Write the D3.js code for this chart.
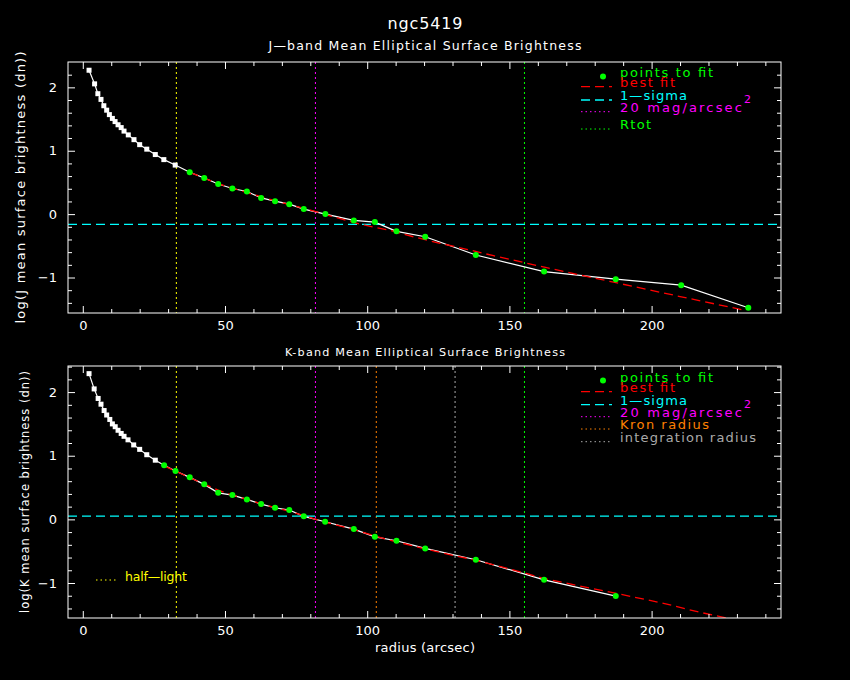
<!DOCTYPE html>
<html>
<head>
<meta charset="utf-8">
<script src="https://cdn.jsdelivr.net/npm/d3@7"></script>
<style>
  body { margin: 0; background: #000; }
  svg { display: block; }
  text { font-family: "DejaVu Sans", sans-serif; }
</style>
</head>
<body>
<div id="grafico"></div>
<script>
// perfil em J (raio em arcsec, log do brilho)
const raioJ = [2.2, 4.15, 5.3, 6.4, 7.4, 8.4, 9.35, 10.4, 11.35, 12.4, 13.5, 14.5, 16.0, 18.0, 20.0, 22.5, 25.5, 28.5, 32.5,
  37.6, 42.7, 47.6, 52.6, 57.7, 62.7, 67.6, 72.6, 77.7, 85.3, 95.3, 102.7, 110.3, 120.4, 138.2, 162.2, 187.4, 210.4, 234.0];
const logJ = [2.27, 2.055, 1.90, 1.81, 1.71, 1.64, 1.57, 1.51, 1.46, 1.41, 1.365, 1.31, 1.25, 1.175, 1.096, 1.025, 0.94, 0.86, 0.774,
  0.66, 0.57, 0.476, 0.404, 0.357, 0.256, 0.204, 0.157, 0.079, 0.0, -0.10, -0.126, -0.272, -0.357, -0.645, -0.907, -1.027, -1.121, -1.478];
const primeiroAjusteJ = 19; // primeiro ponto usado no ajuste

// ajuste em J
const ajusteRaioJ = [37.6, 47.6, 57.7, 67.6, 80, 88, 97.5, 102.8, 107.5, 116.2, 125.6, 135, 144.4, 153.8, 163.1, 186.6, 210, 233];
const ajusteLogJ = [0.66, 0.48, 0.34, 0.21, 0.063, -0.04, -0.157, -0.21, -0.25, -0.357, -0.46, -0.555, -0.656, -0.75, -0.845, -1.074, -1.30, -1.52];

// perfil em K
const raioK = [2.2, 4.0, 5.4, 6.4, 7.5, 8.4, 9.5, 10.4, 11.4, 12.4, 13.5, 14.5, 15.9, 17.9, 20.0, 22.5, 25.5,
  28.6, 32.6, 37.6, 42.7, 47.6, 52.6, 57.7, 62.7, 67.6, 72.6, 77.7, 85.2, 95.3, 102.7, 110.3, 120.4, 138.2, 162.2, 187.4];
const logK = [2.29, 2.05, 1.90, 1.81, 1.71, 1.64, 1.57, 1.50, 1.456, 1.40, 1.35, 1.305, 1.25, 1.17, 1.10, 1.016, 0.93,
  0.85, 0.76, 0.66, 0.55, 0.417, 0.382, 0.314, 0.24, 0.182, 0.146, 0.047, -0.038, -0.153, -0.274, -0.336, -0.456, -0.635, -0.95, -1.206];
const primeiroAjusteK = 17;

// ajuste em K
const ajusteRaioK = [28.6, 32.6, 37.6, 42.7, 47.6, 52.6, 57.7, 62.7, 67.6, 72.6, 77.7, 85, 95.3, 106.9, 120, 130.9, 138, 156, 162, 187.7, 204.2, 217, 226.4, 232];
const ajusteLogK = [0.84, 0.76, 0.655, 0.555, 0.46, 0.38, 0.315, 0.245, 0.185, 0.13, 0.06, -0.04, -0.16, -0.315, -0.46, -0.572, -0.64, -0.85, -0.93, -1.164, -1.32, -1.46, -1.55, -1.62];

// linhas de referência
const sigmaJ = -0.162, sigmaK = 0.052;
const meiaLuz = 32.9, mag20 = 81.8, rTot = 155.3, raioKron = 103.2, raioIntegracao = 130.9;

// ticks dos eixos
const ticksX = [0, 50, 100, 150, 200];
const ticksY = [-1, 0, 1, 2];

const svg = d3.select("#grafico").append("svg")
  .attr("width", 850).attr("height", 680)
  .style("background", "#000");

const x = d3.scaleLinear().domain([-5.2, 245.5]).range([68, 781]);

const cores = {
  verde: "#00ff00", vermelho: "#ff0000", ciano: "#00ffff", magenta: "#ff00ff",
  amarelo: "#ffff00", laranja: "#ff8000", cinza: "#aaaaaa"
};

// texto com largura fixa (a fonte original é mais larga)
function texto(g, px, py, t, tam, cor, anchor, largura) {
  const el = g.append("text").attr("x", px).attr("y", py).attr("fill", cor || "#fff")
    .attr("font-size", tam).attr("text-anchor", anchor || "start").text(t);
  if (largura) el.attr("textLength", largura).attr("lengthAdjust", "spacing");
  return el;
}

function painel(cfg) {
  const y = d3.scaleLinear().domain(cfg.dominioY).range([cfg.base, cfg.topo]);
  const g = svg.append("g");
  const clipId = "clip" + cfg.id;
  svg.append("clipPath").attr("id", clipId).append("rect")
    .attr("x", 68).attr("y", cfg.topo).attr("width", 713).attr("height", cfg.base - cfg.topo);
  const area = g.append("g").attr("clip-path", `url(#${clipId})`);

  // linhas verticais
  cfg.verticais.forEach(v => {
    area.append("line").attr("x1", x(v.r)).attr("x2", x(v.r))
      .attr("y1", cfg.topo).attr("y2", cfg.base)
      .attr("stroke", v.cor).attr("stroke-dasharray", "2,3");
  });

  // 1-sigma
  area.append("line").attr("x1", 68).attr("x2", 781)
    .attr("y1", y(cfg.sigma)).attr("y2", y(cfg.sigma))
    .attr("stroke", cores.ciano).attr("stroke-width", 1.3).attr("stroke-dasharray", "9,5");

  // perfil
  const pts = cfg.raio.map((r, i) => [r, cfg.valores[i]]);
  const linha = d3.line().x(d => x(d[0])).y(d => y(d[1]));
  area.append("path").datum(pts).attr("d", linha)
    .attr("fill", "none").attr("stroke", "#fff").attr("stroke-width", 1.2);
  area.selectAll(".branco").data(pts.slice(0, cfg.primeiro)).enter().append("rect")
    .attr("x", d => x(d[0]) - 2.5).attr("y", d => y(d[1]) - 2.5)
    .attr("width", 5).attr("height", 5).attr("fill", "#fff");

  // ajuste
  const ajuste = cfg.ajusteRaio.map((r, i) => [r, cfg.ajusteLog[i]]);
  area.append("path").datum(ajuste).attr("d", linha)
    .attr("fill", "none").attr("stroke", cores.vermelho).attr("stroke-width", 1.3)
    .attr("stroke-dasharray", "9,5");

  area.selectAll(".verde").data(pts.slice(cfg.primeiro)).enter().append("circle")
    .attr("cx", d => x(d[0])).attr("cy", d => y(d[1])).attr("r", 3)
    .attr("fill", cores.verde);

  // moldura e ticks
  g.append("rect").attr("x", 68).attr("y", cfg.topo).attr("width", 713)
    .attr("height", cfg.base - cfg.topo).attr("fill", "none").attr("stroke", "#fff");

  const menoresX = d3.range(-5, 25).map(i => i * 10).filter(v => v % 50 !== 0 && v > -5.2 && v < 245.5);
  const menoresY = d3.range(-7, 13).map(i => i * 0.2).filter((v, i) => (i - 7 + 70) % 5 !== 0 && v > cfg.dominioY[0] && v < cfg.dominioY[1]);
  const fmt = d => (d < 0 ? "\u2212" : "") + Math.abs(d);

  const eixo = (ger, transf, valores, tam, rotulos) => {
    const a = g.append("g").attr("transform", transf)
      .call(ger.tickValues(valores).tickSize(-tam).tickPadding(rotulos ? 8 : 0)
        .tickFormat(rotulos ? fmt : ""));
    a.select(".domain").remove();
    a.selectAll("line").attr("stroke", "#fff");
    a.selectAll("text").attr("fill", "#fff").attr("font-size", 13)
      .style("font-family", "DejaVu Sans, sans-serif");
    return a;
  };
  eixo(d3.axisBottom(x), `translate(0,${cfg.base})`, ticksX, 7, true);
  eixo(d3.axisBottom(x), `translate(0,${cfg.base})`, menoresX, 4, false);
  eixo(d3.axisTop(x), `translate(0,${cfg.topo})`, ticksX, -7, false).selectAll("line").attr("y2", 7);
  eixo(d3.axisTop(x), `translate(0,${cfg.topo})`, menoresX, -4, false).selectAll("line").attr("y2", 4);
  eixo(d3.axisLeft(y), "translate(68,0)", ticksY, 7, true).selectAll("text").attr("dx", "-3");
  eixo(d3.axisLeft(y), "translate(68,0)", menoresY, 4, false);
  eixo(d3.axisRight(y), "translate(781,0)", ticksY, -7, false).selectAll("line").attr("x2", -7);
  eixo(d3.axisRight(y), "translate(781,0)", menoresY, -4, false).selectAll("line").attr("x2", -4);

  // rótulo do eixo y
  const cy = (cfg.topo + cfg.base) / 2;
  g.append("text").attr("transform", `translate(${cfg.rotuloX},${cy}) rotate(-90)`)
    .attr("text-anchor", "middle").attr("fill", "#fff").attr("font-size", cfg.rotuloTam)
    .attr("textLength", cfg.rotuloLargura).attr("lengthAdjust", "spacing")
    .text(cfg.rotuloY);

  // legenda
  const leg = g.append("g");
  leg.append("circle").attr("cx", 603).attr("cy", cfg.topo + 14.5).attr("r", 3).attr("fill", cores.verde);
  cfg.legenda.forEach(item => {
    const yy = cfg.topo + item.dy;
    if (item.traco) {
      leg.append("line").attr("x1", 581).attr("x2", 612).attr("y1", yy).attr("y2", yy)
        .attr("stroke", item.cor).attr("stroke-width", item.traco === "9,5" ? 1.3 : 1)
        .attr("stroke-dasharray", item.traco);
    }
    const t = texto(leg, 620, yy, item.texto, 13, item.cor, "start", item.largura);
    if (item.sup) {
      t.append("tspan").attr("dy", -9).attr("font-size", 11).text(item.sup);
    }
  });
  return { g, y };
}

// títulos
texto(svg, 425, 29, "ngc5419", 16, "#fff", "middle", 75);
texto(svg, 425, 50, "J\u2014band Mean Elliptical Surface Brightness", 12.5, "#fff", "middle", 313);
texto(svg, 425, 356, "K-band Mean Elliptical Surface Brightness", 11.2, "#fff", "middle", 280);
texto(svg, 425, 652, "radius (arcsec)", 13, "#fff", "middle", 100);

painel({
  id: "J", topo: 62, base: 313, dominioY: [-1.56, 2.40],
  raio: raioJ, valores: logJ, primeiro: primeiroAjusteJ,
  ajusteRaio: ajusteRaioJ, ajusteLog: ajusteLogJ, sigma: sigmaJ,
  verticais: [
    { r: meiaLuz, cor: cores.amarelo },
    { r: mag20, cor: cores.magenta },
    { r: rTot, cor: cores.verde }
  ],
  rotuloY: "log(J mean surface brightness (dn))", rotuloX: 25, rotuloTam: 13, rotuloLargura: 272,
  legenda: [
    { texto: "points to fit", cor: cores.verde, dy: 14.7, largura: 93 },
    { texto: "best fit", cor: cores.vermelho, dy: 24.7, traco: "9,5", largura: 55 },
    { texto: "1\u2014sigma", cor: cores.ciano, dy: 38, traco: "9,5", largura: 67 },
    { texto: "20 mag/arcsec", sup: "2", cor: cores.magenta, dy: 49.7, traco: "1.5,3", largura: 131 },
    { texto: "Rtot", cor: cores.verde, dy: 67, traco: "1.5,3", largura: 31 }
  ]
});

const k = painel({
  id: "K", topo: 366, base: 618, dominioY: [-1.55, 2.41],
  raio: raioK, valores: logK, primeiro: primeiroAjusteK,
  ajusteRaio: ajusteRaioK, ajusteLog: ajusteLogK, sigma: sigmaK,
  verticais: [
    { r: meiaLuz, cor: cores.amarelo },
    { r: mag20, cor: cores.magenta },
    { r: raioKron, cor: cores.laranja },
    { r: raioIntegracao, cor: cores.cinza },
    { r: rTot, cor: cores.verde }
  ],
  rotuloY: "log(K mean surface brightness (dn))", rotuloX: 29, rotuloTam: 11.5, rotuloLargura: 242,
  legenda: [
    { texto: "points to fit", cor: cores.verde, dy: 15.7, largura: 93 },
    { texto: "best fit", cor: cores.vermelho, dy: 25.7, traco: "9,5", largura: 55 },
    { texto: "1\u2014sigma", cor: cores.ciano, dy: 38.7, traco: "9,5", largura: 67 },
    { texto: "20 mag/arcsec", sup: "2", cor: cores.magenta, dy: 50.7, traco: "1.5,3", largura: 131 },
    { texto: "Kron radius", cor: cores.laranja, dy: 63, traco: "1.5,3", largura: 89 },
    { texto: "integration radius", cor: cores.cinza, dy: 75.7, traco: "1.5,3", largura: 136 }
  ]
});

// legenda da meia-luz
k.g.append("line").attr("x1", 96).attr("x2", 117).attr("y1", 580).attr("y2", 580)
  .attr("stroke", cores.amarelo).attr("stroke-dasharray", "1.5,3");
texto(k.g, 125, 581, "half\u2014light", 12.5, cores.amarelo, "start", 62);
</script>
</body>
</html>
